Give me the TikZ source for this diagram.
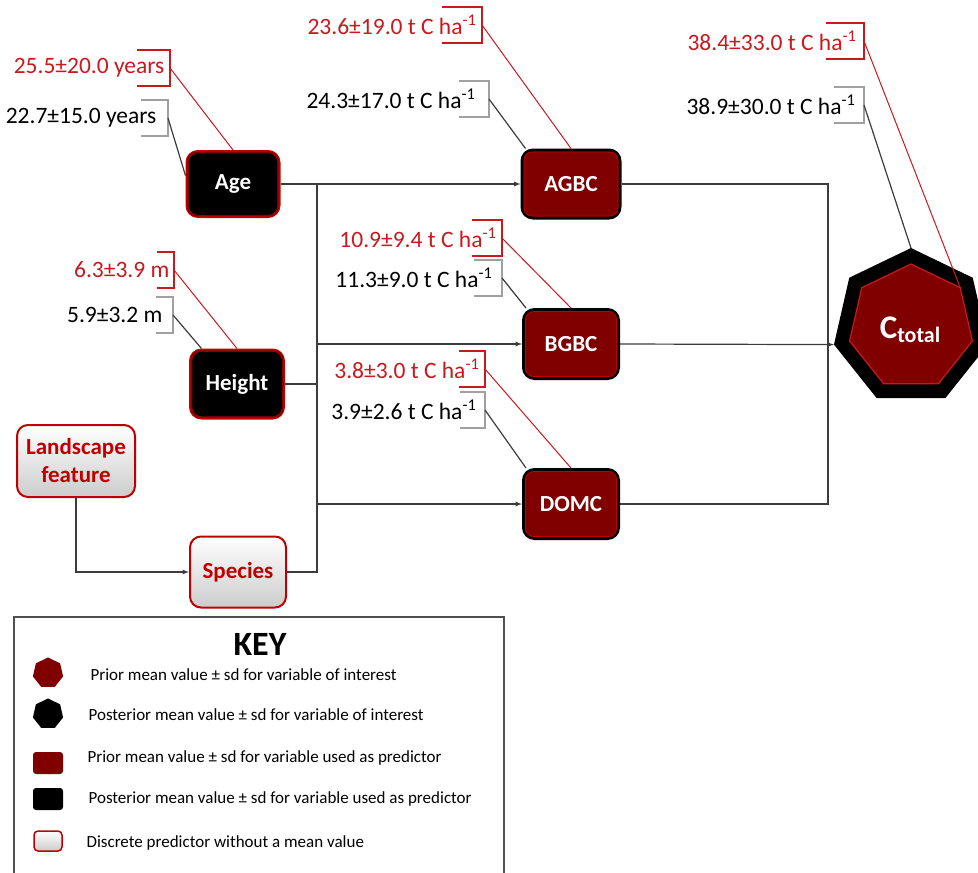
\documentclass[tikz,border=0pt]{standalone}
\usepackage{fontspec}
\setmainfont{Carlito}
\usetikzlibrary{shapes.geometric}

\definecolor{priorred}{RGB}{200,25,30}
\definecolor{boxred}{RGB}{128,0,0}
\definecolor{edgered}{RGB}{192,0,0}
\definecolor{bracketgray}{RGB}{160,160,160}
\definecolor{leadgray}{RGB}{60,60,60}
\definecolor{keygray}{RGB}{80,80,80}

\begin{document}
\begin{tikzpicture}[x=1pt, y=-1pt, line width=1.2pt,
  boxfont/.style={font=\fontsize{23}{28}\selectfont\bfseries},
  postbox/.style={rectangle, rounded corners=11pt, fill=black, draw=edgered, line width=3pt, text=white, boxfont, inner sep=0pt},
  predbox/.style={rectangle, rounded corners=11pt, fill=boxred, draw=black, line width=3pt, text=white, boxfont, inner sep=0pt},
  discbox/.style={rectangle, rounded corners=11pt, top color=white, bottom color=gray!40, draw=edgered, line width=2pt, text=edgered, boxfont, inner sep=0pt, align=center},
  hepta/.style={regular polygon, regular polygon sides=7, inner sep=0pt, outer sep=0pt},
  link/.style={draw=leadgray, line width=1.2pt},
  keytext/.style={anchor=west, inner sep=0pt, font=\fontsize{17}{20}\selectfont}]

\useasboundingbox (0,0) rectangle (978,873);

% predictors
\node [postbox, minimum width=92pt, minimum height=65pt] (age) at (233,184) {Age};
\node [postbox, minimum width=93pt, minimum height=68pt] (height) at (237,384) {Height};
\node [discbox, minimum width=118pt, minimum height=72pt] (landf) at (76,461) {Landscape\\feature};
\node [discbox, minimum width=96pt, minimum height=71pt] (species) at (238,572) {Species};

% carbon pools
\node [predbox, minimum width=98pt, minimum height=68pt] (agbc) at (571,184) {AGBC};
\node [predbox, minimum width=95pt, minimum height=69pt] (bgbc) at (571,344) {BGBC};
\node [predbox, minimum width=95pt, minimum height=69pt] (domc) at (571,504) {DOMC};

\foreach \n in {agbc,bgbc,domc}
  \draw [edgered, line width=0.8pt, rounded corners=8pt] ([shift={(3.5,-3.5)}]\n.south west) rectangle ([shift={(-3.5,3.5)}]\n.north east);
\foreach \n in {age,height}
  \draw [boxred, line width=1.2pt, rounded corners=8pt] ([shift={(2.5,-2.5)}]\n.south west) rectangle ([shift={(-2.5,2.5)}]\n.north east);

% total carbon
\node [hepta, minimum size=158pt, fill=black] (ctot) at (911,327) {};
\node [hepta, minimum size=126pt, fill=boxred, draw=priorred, line width=1.2pt] (ctotin) at (911,327) {};
\node [text=white, font=\bfseries, inner sep=0pt] (ctotlab) at (910,330) {{\fontsize{33}{36}\selectfont C}{\fontsize{22}{24}\selectfont\raisebox{-4pt}{total}}};

% wiring
\coordinate (bus) at (317,0);
\coordinate (rbus) at (828,0);
\draw [link, -latex] (age.east) -- (age.east -| agbc.west);
\draw [link] (species.east) -- (species.east -| bus) -- (age.east -| bus);
\draw [link] (height.east) -- (height.east -| bus);
\draw [link, -latex] (bgbc.west -| bus) -- (bgbc.west);
\draw [link, -latex] (domc.west -| bus) -- (domc.west);
\draw [link, -latex] (landf.south) |- (species.west);
\draw [link] (agbc.east) -- (agbc.east -| rbus) -- (domc.east -| rbus) -- (domc.east);
\draw [link, -latex] (bgbc.east) -- (ctot.corner 3);

% mean +- sd callouts
\foreach \nm/\bx/\by/\bw/\tx/\tc/\bc/\txt in {
  agepri/170/68/33/165/priorred/priorred/{25.5±20.0 years},
  agepost/168/118/27/157/black/bracketgray/{22.7±15.0 years},
  agbcpri/482/25/40/477/priorred/priorred/{23.6±19.0 t C ha\textsuperscript{-1}},
  agbcpost/489/99/30/476/black/bracketgray/{24.3±17.0 t C ha\textsuperscript{-1}},
  ctotpri/864/41/38/857/priorred/priorred/{38.4±33.0 t C ha\textsuperscript{-1}},
  ctotpost/864/105/30/856/black/bracketgray/{38.9±30.0 t C ha\textsuperscript{-1}},
  heightpri/174/270/17/170/priorred/priorred/{6.3±3.9 m},
  heightpost/173/315/17/163/black/bracketgray/{5.9±3.2 m},
  bgbcpri/502/238/30/497/priorred/priorred/{10.9±9.4 t C ha\textsuperscript{-1}},
  bgbcpost/502/278/28/493/black/bracketgray/{11.3±9.0 t C ha\textsuperscript{-1}},
  domcpri/485/369/26/480/priorred/priorred/{3.8±3.0 t C ha\textsuperscript{-1}},
  domcpost/485/410/25/477/black/bracketgray/{3.9±2.6 t C ha\textsuperscript{-1}}}
{
  \coordinate (\nm) at (\bx,\by);
  \node [anchor=east, inner sep=0pt, text=\tc, font=\fontsize{23.5}{27}\selectfont] (\nm-txt) at (\tx,\by) {\txt};
  \draw [\bc, line width=1.2pt] ({\bx-\bw},{\by-18}) -- (\bx,{\by-18}) -- (\bx,{\by+18}) -- ({\bx-\bw},{\by+18});
}

\draw [priorred, line width=1pt] (agepri) -- (age.north);
\draw [leadgray] (agepost) -- (age.170);
\draw [priorred, line width=1pt] (heightpri) -- (height.north);
\draw [leadgray] (heightpost) -- (height.135);
\draw [priorred, line width=1pt] (agbcpri) -- (agbc.north);
\draw [leadgray] (agbcpost) -- ([xshift=5pt]agbc.north west);
\draw [priorred, line width=1pt] (bgbcpri) -- (bgbc.north);
\draw [leadgray] (bgbcpost) -- ([xshift=4pt]bgbc.north west);
\draw [priorred, line width=1pt] (domcpri) -- (domc.north);
\draw [leadgray] (domcpost) -- ([xshift=4pt]domc.north west);
\draw [priorred, line width=1pt] (ctotpri) -- (ctotin.corner 7);
\draw [leadgray] (ctotpost) -- (ctot.corner 1);

% key
\draw [keygray, line width=2pt] (14,873) -- (14,617) -- (504,617) -- (504,873);
\node [font=\fontsize{34}{38}\selectfont\bfseries] (keytitle) at (260,644) {KEY};
\node [hepta, minimum size=31pt, fill=boxred] (k1) at (48,673) {};
\node [keytext] (k1t) at (90,675) {Prior mean value ± sd for variable of interest};
\node [hepta, minimum size=31pt, fill=black] (k2) at (48,714) {};
\node [keytext] (k2t) at (88,715) {Posterior mean value ± sd for variable of interest};
\node [rectangle, rounded corners=3pt, fill=boxred, minimum width=30pt, minimum height=22pt] (k3) at (48,763) {};
\node [keytext] (k3t) at (87,758) {Prior mean value ± sd for variable used as predictor};
\node [rectangle, rounded corners=3pt, fill=black, minimum width=30pt, minimum height=22pt] (k4) at (48,799) {};
\node [keytext] (k4t) at (88,799) {Posterior mean value ± sd for variable used as predictor};
\node [rectangle, rounded corners=4pt, top color=white, bottom color=gray!40, draw=edgered, line width=1.5pt, minimum width=28pt, minimum height=20pt] (k5) at (48,841) {};
\node [keytext] (k5t) at (86,843) {Discrete predictor without a mean value};

\end{tikzpicture}
\end{document}
